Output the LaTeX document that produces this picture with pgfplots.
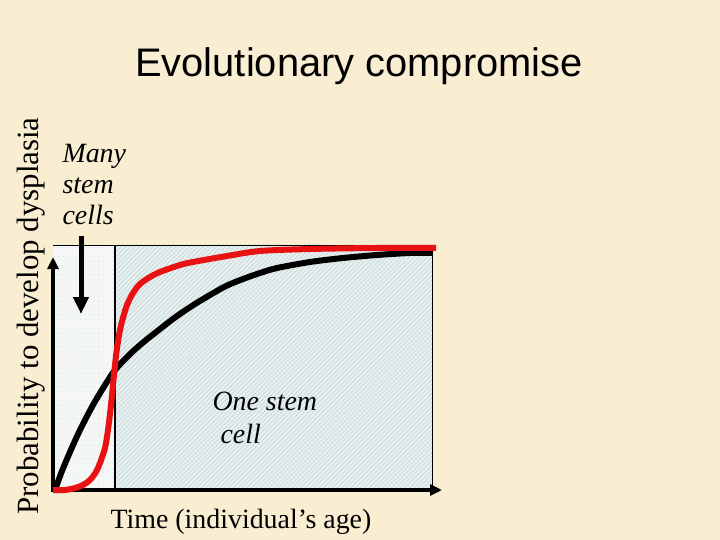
\documentclass[border=0pt]{standalone}
\usepackage{pgfplots}
\pgfplotsset{compat=1.18}
\usepackage{fontspec}
\setmainfont{Liberation Serif}
\newfontfamily\arial{Liberation Sans}
\usetikzlibrary{arrows.meta,patterns.meta}

\definecolor{paper}{RGB}{250,238,210}
\definecolor{leftfill}{RGB}{244,247,246}
\definecolor{rightfill}{RGB}{232,240,240}
\definecolor{hatch}{RGB}{196,214,216}
\definecolor{curvered}{RGB}{232,18,18}

\begin{document}
\begin{tikzpicture}
\begin{axis}[
    scale only axis,
    width=720bp, height=540bp,
    xmin=0, xmax=720, ymin=0, ymax=540,
    y dir=reverse,
    hide axis,
    clip=false,
]
% slide background
\addplot[fill=paper, draw=none] coordinates {(0,0)(720,0)(720,540)(0,540)} -- cycle;

% shaded regions
\addplot[fill=leftfill, draw=none] coordinates {(53,245)(115,245)(115,490)(53,490)} -- cycle;
\addplot[pattern={Dots[distance=4.5bp,radius=0.35bp]}, pattern color=hatch, draw=none]
    coordinates {(53,245)(115,245)(115,490)(53,490)} -- cycle;
\addplot[fill=rightfill, draw=none] coordinates {(115,245)(432,245)(432,490)(115,490)} -- cycle;
\addplot[pattern={Lines[angle=45,distance=3.2bp,line width=0.7bp]}, pattern color=hatch, draw=none]
    coordinates {(115,245)(432,245)(432,490)(115,490)} -- cycle;
\addplot[black, line width=0.8bp] coordinates {(53,245)(432,245)(432,490)};
\addplot[black, line width=1.5bp] coordinates {(115,245)(115,490)};

% axes
\addplot[black, line width=4.5bp, -{Triangle[length=12bp,width=11bp]}] coordinates {(53,492)(53,257)};
\addplot[black, line width=4.5bp, -{Triangle[length=12bp,width=11bp]}] coordinates {(51,490)(442,490)};

% many stem cells arrow
\addplot[black, line width=5bp, -{Triangle[length=17bp,width=15bp]}] coordinates {(81,236)(81,314)};

% black curve (one stem cell)
\addplot[black, line width=6bp, smooth] coordinates {
(55,490)(62,471)(70,452)(80,430)(93,405)(105,385)(115,370)(127,357)(140,345)
(160,329)(177,316)(195,304)(210,295)(226,286)(243,279)(260,273)(277,268)
(310,262)(343,258)(377,255)(410,253)(432,253)};

% red curve (many stem cells)
\addplot[curvered, line width=6bp, smooth] coordinates {
(53,490)(65,490)(75,488)(83,485)(90,480)(96,472)(100,463)(105,448)(108,430)
(111,405)(113,385)(115,365)(117,348)(120,330)(123,318)(127,305)(133,293)
(140,284)(150,277)(160,272)(180,265)(193,262)(227,256)(260,251)(310,249)
(377,248)(436,248)};

% texts
\node[anchor=base, font=\arial\fontsize{40}{42}\selectfont] at (axis cs:359,77) {Evolutionary compromise};
\node[anchor=base, rotate=90, font=\fontsize{31}{34}\selectfont] at (axis cs:38,316) {Probability to develop dysplasia};
\node[anchor=base west, font=\itshape\fontsize{28}{32}\selectfont] at (axis cs:59,163) {Many};
\node[anchor=base west, font=\itshape\fontsize{28}{32}\selectfont] at (axis cs:59,194) {stem};
\node[anchor=base west, font=\itshape\fontsize{28}{32}\selectfont] at (axis cs:59,225) {cells};
\node[anchor=base west, font=\itshape\fontsize{28}{32}\selectfont] at (axis cs:209,410) {One stem};
\node[anchor=base west, font=\itshape\fontsize{28}{32}\selectfont] at (axis cs:217,443) {cell};
\node[anchor=base west, font=\fontsize{28}{32}\selectfont] at (axis cs:107,528) {Time (individual’s age)};
\end{axis}
\end{tikzpicture}
\end{document}
